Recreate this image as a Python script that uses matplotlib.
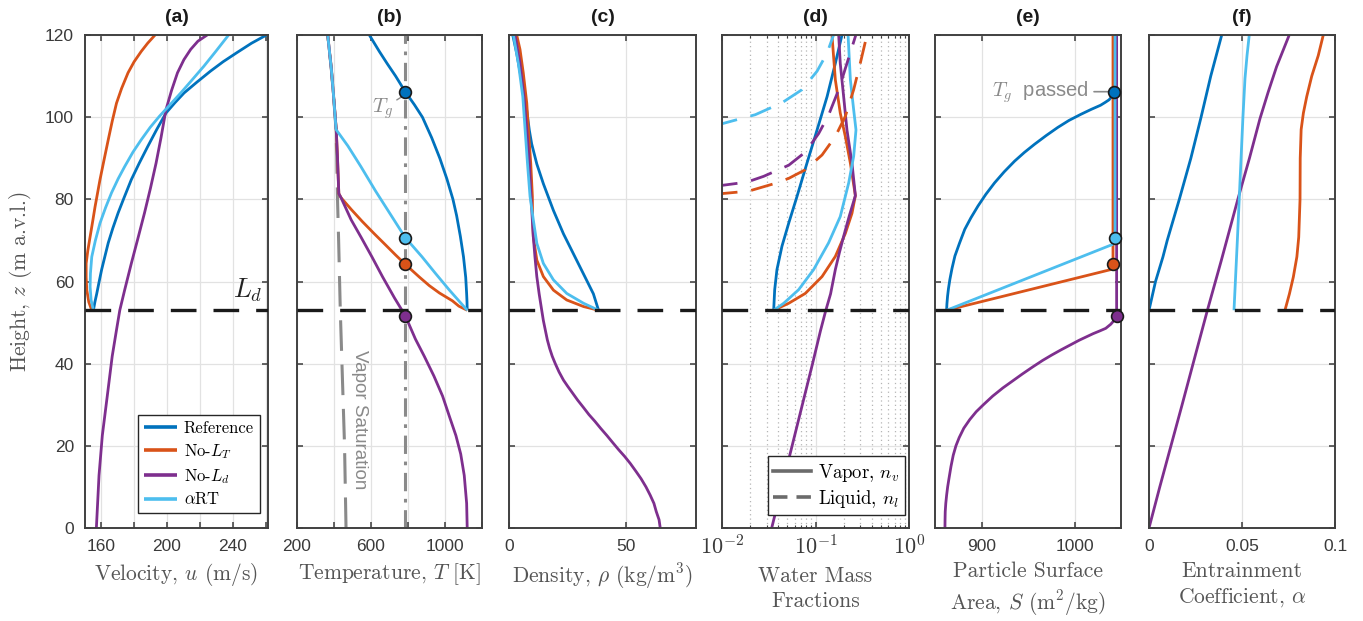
"""Vertical plume profiles for the four model variants (panels a-f)."""

import matplotlib

matplotlib.use("Agg")
import matplotlib.pyplot as plt
from matplotlib import ticker

plt.rcParams["mathtext.fontset"] = "cm"
plt.rcParams["font.family"] = ["Liberation Sans", "DejaVu Sans"]
plt.rcParams["axes.unicode_minus"] = False

SERIF = "cmr10"
C_REF = "#0072BD"
C_LT = "#D95319"
C_LD = "#7E2F8E"
C_RT = "#4DBEEE"
GREY = "#8a8a8a"

LD_HEIGHT = 53.0
T_GLASS = 785.0
RUN_LABELS = ["Reference", "No-$L_T$", "No-$L_d$", r"$\alpha$RT"]

# (a) velocity
a_ref_z = [53, 55, 57, 60, 62.9, 66, 69.4, 73, 76.7, 80.5, 84.8, 88.8, 92.9, 97, 101, 103.5, 105.9, 108.5, 111.2, 113.5, 115.7, 118, 120]
a_ref_u = [155.6, 156.5, 157.6, 159.1, 160.6, 162.5, 164.6, 167.4, 170.6, 174.3, 178.6, 183.4, 188.6, 194, 199.6, 205, 210.6, 218.3, 226.6, 234.3, 242.6, 251.5, 260.6]
a_lt_z = [53, 55, 57.9, 61, 64.4, 67.5, 70.9, 74.5, 78.2, 81.5, 84.8, 89.5, 94.5, 99, 103.4, 107, 110.8, 113.5, 116, 118, 120]
a_lt_u = [154.6, 152.8, 151.6, 151.2, 151.2, 152.2, 153.6, 155.1, 156.6, 158.1, 159.6, 162, 164.6, 167, 169.6, 172.7, 176.6, 180.3, 184.6, 188.5, 193]
a_ld_z = [0, 12.8, 22.5, 32.1, 41.8, 48.2, 53, 58, 64.4, 70.5, 76.7, 82.7, 88.8, 95, 101.8, 106.5, 110.8, 114, 116.5, 118.5, 120]
a_ld_u = [157.4, 159, 161, 164, 167, 169.6, 171.6, 174.6, 178.6, 182.6, 186.6, 190.2, 193.6, 196.6, 199.6, 203, 206.6, 210.5, 214.6, 219, 224.6]
a_rt_z = [53, 55.5, 58.7, 62, 66, 70, 74.2, 78, 81.6, 85, 88, 91.5, 94.5, 97.5, 100.2, 103, 105.9, 109, 112.4, 116, 120]
a_rt_u = [155.6, 154.2, 153.6, 153.8, 154.6, 156.8, 159.6, 163, 166.6, 170.6, 174.6, 179.6, 184.6, 190, 195.6, 202, 208.6, 215.3, 222.6, 229.8, 237.6]

# (b) temperature
b_sat_z = [0, 20, 40, 53, 70, 80, 90, 97, 105, 112, 120]
b_sat_T = [465, 457, 443, 434, 425, 419, 415, 411, 398, 385, 366]
b_ref_z = [53, 55, 57, 61, 66, 71, 76, 80, 85, 90, 95, 100, 103, 106.2, 110, 113, 116, 120]
b_ref_T = [1120, 1119, 1117, 1112, 1100, 1083, 1063, 1043, 1010, 972, 928, 878, 835, 785, 733, 688, 645, 591]
b_lt_z = [53, 54, 55.3, 57.2, 59, 61.1, 64.2, 66.5, 68.8, 71.7, 74.6, 77.5, 80.4, 81.4, 90, 97, 105, 112, 120]
b_lt_T = [1120, 1075, 1040, 970, 915, 861, 785, 732, 681, 616, 553, 494, 438, 426, 419, 412, 398, 385, 366]
b_ld_z = [0, 6, 12.8, 18, 22.5, 27, 32.1, 37, 41.8, 46, 51.7, 56, 61.1, 66, 70.8, 75, 80.4, 81.4, 90, 97, 105, 112, 120]
b_ld_T = [1120, 1117, 1104, 1085, 1059, 1025, 987, 940, 888, 840, 785, 727, 663, 605, 546, 493, 438, 426, 419, 412, 398, 385, 366]
b_rt_z = [53, 58, 62, 66, 70.7, 76, 82, 88, 93, 97, 105, 112, 120]
b_rt_T = [1120, 1022, 948, 876, 785, 710, 625, 545, 475, 411, 398, 385, 366]
tg_heights = [106.2, 64.2, 51.7, 70.7]

# (c) density
c_ref_z = [53, 57, 61, 65.9, 71.6, 77.3, 83.8, 88.6, 93.5, 96.8, 101.6, 105, 109, 112, 115.5, 120]
c_ref_r = [38.3, 36.1, 32.6, 28.3, 23.3, 19, 14.7, 11.9, 9.7, 8.7, 7.6, 6.6, 5.4, 4.4, 3.3, 1.6]
c_lt_z = [53, 53.9, 55.5, 57.9, 61.2, 65.2, 70.9, 75, 80.7, 88.8, 96.9, 103.4, 110.8, 116.5, 120]
c_lt_r = [38.3, 31.9, 24.7, 19, 14.7, 11.9, 10.4, 10.1, 10, 9.3, 8.3, 7.6, 6.1, 4.7, 3.3]
c_ld_z = [0, 2, 4, 6, 8, 10, 12, 13.8, 15.7, 17.4, 19, 20.7, 22.5, 24.2, 26, 27.6, 29.3, 31.1, 33, 34.5,
          36, 38, 40, 41.8, 43.7, 45.8, 48, 50.5, 53, 57, 61.2, 66, 70.9, 75.8, 80.7, 88.8, 96.9, 105, 113.1, 120]
c_ld_r = [64.7, 64.2, 63, 62, 60.4, 58.6, 56.5, 54.3, 51.9, 49.5, 47, 44.5, 41.9, 39.3, 36.7, 34.2, 31.9, 29.4, 27, 25.1,
          23.3, 21.4, 19.8, 18.5, 17.4, 16.4, 15.6, 14.7, 14.0, 12.9, 11.9, 11.1, 10.4, 9.9, 9.4, 8.7, 7.6, 6.4, 4.7, 2.6]
c_rt_z = [53, 54.7, 57.1, 60.4, 64.4, 69.3, 75, 80.7, 88.8, 96.9, 105, 113.1, 120]
c_rt_r = [38.3, 31.9, 24.7, 19, 14.7, 11.9, 10.4, 9, 7.9, 6.9, 5.9, 4, 1.9]

# (d) water mass fractions: vapour (solid) and liquid (dashed)
d_ref_vap_z = [53, 58, 62.9, 68.6, 74.2, 80.7, 88.8, 96.9, 105, 113.1, 120]
d_ref_vap = [0.0357, 0.0366, 0.0387, 0.0438, 0.0517, 0.0634, 0.081, 0.104, 0.133, 0.163, 0.192]
d_lt_vap_z = [53, 54.7, 57.1, 61.2, 66.1, 71.7, 76.6, 80.9, 88.8, 95.3, 101, 109.1, 120]
d_lt_vap = [0.0357, 0.0517, 0.0778, 0.1175, 0.163, 0.2085, 0.2455, 0.267, 0.236, 0.2085, 0.184, 0.163, 0.150]
d_ld_vap_z = [0, 10, 20, 30, 40, 48, 53, 57, 62.9, 67, 71, 76, 80.9, 88.8, 96.9, 105, 113.1, 120]
d_ld_vap = [0.034, 0.0437, 0.0562, 0.0723, 0.093, 0.113, 0.129, 0.145, 0.163, 0.18, 0.2, 0.23, 0.267, 0.2455, 0.217, 0.2, 0.184, 0.177]
d_rt_vap_z = [53, 54.7, 58, 62.9, 69.4, 75.8, 84, 90.5, 96.9, 101.8, 109.1, 120]
d_rt_vap = [0.0357, 0.0457, 0.066, 0.0955, 0.138, 0.184, 0.2265, 0.256, 0.271, 0.256, 0.236, 0.223]
d_lt_liq_z = [81.1, 81.4, 82, 83.9, 85.1, 87.2, 90.8, 95.3, 100.2, 106.7, 113.1, 120]
d_lt_liq = [0.0085, 0.01, 0.0193, 0.0372, 0.0517, 0.0778, 0.1175, 0.163, 0.2085, 0.256, 0.301, 0.355]
d_ld_liq_z = [83.2, 83.4, 84.2, 85.6, 88.3, 91.5, 96, 100.5, 106.7, 113.1, 120]
d_ld_liq = [0.0085, 0.01, 0.0185, 0.0279, 0.0517, 0.0778, 0.108, 0.138, 0.177, 0.217, 0.27]
d_rt_liq_z = [98.2, 98.4, 100.6, 103.5, 106.7, 111.2, 115.6, 120]
d_rt_liq = [0.0085, 0.01, 0.0227, 0.0438, 0.0718, 0.104, 0.133, 0.156]

# (e) particle surface area
e_ref_z = [53, 54.5, 56.4, 58.3, 60.5, 63.2, 66.2, 69.3, 72.7, 75.5, 78.4, 81.2, 84, 86.7, 89.3, 91.4, 93.4,
           95.5, 97.5, 99.2, 100.7, 101.9, 102.9, 103.6, 104.2, 105.2, 106.2, 120]
e_ref_S = [862.5, 862.8, 863.5, 864.5, 866, 868.3, 871.4, 876.3, 882, 888.6, 896.3, 904.6, 914, 924.4, 935.6, 946, 957,
           969.4, 982, 994, 1006.9, 1018, 1028, 1033, 1037, 1041, 1042.5, 1042.5]
e_lt_z = [53, 62.9, 64.2, 120]
e_lt_S = [862.5, 1039, 1041.4, 1041.4]
e_ld_z = [0, 2, 4, 6, 8, 10, 12, 15, 17.7, 20, 22, 24.3, 26.4, 28.3, 30, 32.1, 34.1, 35.8, 37.5, 39.2, 40.8,
          42.1, 43.3, 44.5, 45.7, 46.5, 47.3, 48.0, 48.6, 49.6, 50.5, 51.7, 120]
e_ld_S = [860.7, 860.8, 861, 861.6, 862.5, 863.6, 865, 867.2, 869.6, 872.5, 876, 881, 887.4, 894.3, 902, 912, 923,
          933.5, 944, 955, 965.8, 975.5, 985, 995, 1005, 1012.5, 1020, 1027.5, 1033.6, 1039, 1042.5, 1045.3, 1045.3]
e_rt_z = [53, 69.0, 70.7, 120]
e_rt_S = [862.5, 1040.7, 1043.6, 1043.6]
tg_surface = [1042.5, 1041.4, 1045.3, 1043.6]

# (f) entrainment coefficient
f_ref_z = [53, 60, 66, 70, 80, 90, 100, 110, 120]
f_ref_a = [0, 0.0035, 0.0075, 0.0098, 0.0163, 0.0225, 0.028, 0.0332, 0.0391]
f_lt_z = [53, 57, 61.1, 66, 70.8, 80, 90, 97, 101, 105, 110, 115, 120]
f_lt_a = [0.0731, 0.0755, 0.0776, 0.0795, 0.0805, 0.0812, 0.0813, 0.0818, 0.083, 0.0848, 0.0875, 0.091, 0.0937]
f_ld_z = [0, 10, 20, 30, 40, 53, 65, 80.4, 90, 99.7, 106, 112.3, 120]
f_ld_a = [0, 0.0058, 0.0118, 0.0178, 0.0237, 0.0314, 0.0388, 0.048, 0.054, 0.0597, 0.064, 0.0686, 0.0754]
f_rt_z = [53, 70, 85, 100, 109.4, 115, 120]
f_rt_a = [0.0457, 0.0475, 0.049, 0.0505, 0.0516, 0.0527, 0.0539]

COLORS = [C_REF, C_LT, C_LD, C_RT]
LW = 2.0
LD_DASH = (0, (7.7, 5.1))
CURVE_DASH = (0, (8, 5))
LABEL_SIZE = 15.5
TICK_SIZE = 12.5


def style_axes(ax, xlim, xticks, xticklabels, xlabel):
    ax.set_xlim(*xlim)
    ax.set_ylim(0, 120)
    ax.set_xticks(xticks)
    ax.set_xticklabels(xticklabels)
    ax.set_yticks(range(0, 121, 20))
    ax.grid(True, which="major", color="#e2e2e2", lw=0.9)
    ax.set_axisbelow(True)
    ax.tick_params(which="major", direction="in", top=True, right=True, length=4.5,
                   width=1.1, color="#3a3a3a", labelsize=TICK_SIZE, labelcolor="#3a3a3a", pad=8)
    for sp in ax.spines.values():
        sp.set_color("#404040")
        sp.set_linewidth(1.4)
    ax.set_xlabel(xlabel, family=SERIF, fontsize=LABEL_SIZE, color="#555555",
                  labelpad=5, linespacing=1.35)
    ax.axhline(LD_HEIGHT, color="#1a1a1a", lw=2.4, linestyle=LD_DASH, zorder=3)


def draw_runs(ax, series):
    lines = []
    for (x, z), color in zip(series, COLORS):
        (ln,) = ax.plot(x, z, color=color, lw=LW, solid_capstyle="butt", zorder=2)
        lines.append(ln)
    return lines


fig = plt.figure(figsize=(13.63, 6.21), dpi=100)
W, H = 1363.0, 621.0
panel_px = [(85, 183), (297, 185), (509, 187), (722, 187), (935, 186), (1149, 186)]
axes = [fig.add_axes([l / W, 93 / H, w / W, 493 / H]) for l, w in panel_px]
ax_a, ax_b, ax_c, ax_d, ax_e, ax_f = axes

# (a) velocity
lines = draw_runs(ax_a, [(a_ref_u, a_ref_z), (a_lt_u, a_lt_z), (a_ld_u, a_ld_z), (a_rt_u, a_rt_z)])
style_axes(ax_a, (150.5, 261.5), range(160, 261, 20), ["160", "", "200", "", "240", ""],
           "Velocity, $u$ (m/s)")
ax_a.set_ylabel("Height, $z$ (m a.v.l.)", family=SERIF, fontsize=LABEL_SIZE, color="#555555", labelpad=8)
ax_a.text(258.5, LD_HEIGHT + 1.5, "$L_d$", fontsize=19, color="#222222", ha="right", va="bottom")
leg = ax_a.legend(lines, RUN_LABELS, loc="lower right", bbox_to_anchor=(0.955, 0.03),
                  borderaxespad=0, prop={"family": SERIF, "size": 12}, handlelength=2.0,
                  handletextpad=0.4, labelspacing=0.35, borderpad=0.35, fancybox=False,
                  framealpha=1)
leg.get_frame().set_edgecolor("#262626")
leg.get_frame().set_linewidth(1.0)
for ln in leg.get_lines():
    ln.set_linewidth(2.6)

# (b) temperature
ax_b.plot(b_sat_T, b_sat_z, color=GREY, lw=2.2, linestyle=(0, (10, 4.5)), zorder=1.8)
ax_b.axvline(T_GLASS, color=GREY, lw=2.2, linestyle=(0, (6, 2.5, 1.2, 2.5)), zorder=1.8)
draw_runs(ax_b, [(b_ref_T, b_ref_z), (b_lt_T, b_lt_z), (b_ld_T, b_ld_z), (b_rt_T, b_rt_z)])
for zt, color in zip(tg_heights, COLORS):
    ax_b.plot([T_GLASS], [zt], "o", ms=8.5, mfc=color, mec="#1a1a1a", mew=1.2, zorder=4)
style_axes(ax_b, (200, 1200), range(200, 1201, 200), ["200", "", "600", "", "1000", ""],
           "Temperature, $T$ [K]")
ax_b.set_yticklabels([])
ax_b.text(540, 26.4, "Vapor Saturation", rotation=270, color=GREY, fontsize=13.5,
          ha="center", va="center")
ax_b.annotate("$T_g$", xy=(768, 105.0), xytext=(718, 102.0), color=GREY, fontsize=15,
              ha="right", va="center",
              arrowprops=dict(arrowstyle="-", color=GREY, lw=1.0, shrinkA=1, shrinkB=0))

# (c) density
draw_runs(ax_c, [(c_ref_r, c_ref_z), (c_lt_r, c_lt_z), (c_ld_r, c_ld_z), (c_rt_r, c_rt_z)])
style_axes(ax_c, (0, 80), [0, 50], ["0", "50"], r"Density, $\rho$ (kg/m$^3$)")
ax_c.set_yticklabels([])

# (d) water mass fractions
ax_d.set_xscale("log")
vap = [(d_ref_vap, d_ref_vap_z), (d_lt_vap, d_lt_vap_z), (d_ld_vap, d_ld_vap_z), (d_rt_vap, d_rt_vap_z)]
draw_runs(ax_d, vap)
for x, z, color in [(d_lt_liq, d_lt_liq_z, C_LT), (d_ld_liq, d_ld_liq_z, C_LD), (d_rt_liq, d_rt_liq_z, C_RT)]:
    ax_d.plot(x, z, color=color, lw=LW, linestyle=CURVE_DASH, zorder=2)
style_axes(ax_d, (1e-2, 1e0), [1e-2, 1e-1, 1e0],
           [r"$\mathsf{10^{-2}}$", r"$\mathsf{10^{-1}}$", r"$\mathsf{10^{0}}$"],
           "Water Mass\nFractions")
ax_d.set_yticklabels([])
ax_d.tick_params(axis="x", which="major", labelsize=16, pad=5)
ax_d.xaxis.set_minor_locator(ticker.LogLocator(base=10, subs=range(2, 10)))
ax_d.xaxis.set_minor_formatter(ticker.NullFormatter())
ax_d.tick_params(which="minor", direction="in", top=True, length=2.5, width=0.8, color="#3a3a3a")
ax_d.grid(True, which="minor", axis="x", color="#b5b5b5", lw=0.9, linestyle=(0, (1, 2.5)))
h_vap, = ax_d.plot([], [], color="#6b6b6b", lw=2.6)
h_liq, = ax_d.plot([], [], color="#6b6b6b", lw=2.6, linestyle=(0, (4, 2.5)))
leg_d = ax_d.legend([h_vap, h_liq], ["Vapor, $n_v$", "Liquid, $n_l$"], loc="lower right",
                    bbox_to_anchor=(0.979, 0.026), borderaxespad=0,
                    prop={"family": SERIF, "size": 13.5}, handlelength=2.0, handletextpad=0.4,
                    labelspacing=0.2, borderpad=0.3, fancybox=False, framealpha=1)
leg_d.get_frame().set_edgecolor("#262626")
leg_d.get_frame().set_linewidth(1.0)

# (e) particle surface area
draw_runs(ax_e, [(e_ref_S, e_ref_z), (e_lt_S, e_lt_z), (e_ld_S, e_ld_z), (e_rt_S, e_rt_z)])
for zt, st, color in zip(tg_heights, tg_surface, COLORS):
    ax_e.plot([st], [zt], "o", ms=8.5, mfc=color, mec="#1a1a1a", mew=1.2, zorder=4,
              clip_on=False)
style_axes(ax_e, (850, 1050), [900, 1000], ["900", "1000"],
           "Particle Surface\nArea, $S$ (m$^2$/kg)")
ax_e.set_yticklabels([])
ax_e.annotate("$T_g$  passed", xy=(tg_surface[0] - 3, tg_heights[0]), xytext=(1015, tg_heights[0]),
              color=GREY, fontsize=14.5, ha="right", va="center",
              arrowprops=dict(arrowstyle="-", color=GREY, lw=1.2, shrinkA=2, shrinkB=0))

# (f) entrainment coefficient
draw_runs(ax_f, [(f_ref_a, f_ref_z), (f_lt_a, f_lt_z), (f_ld_a, f_ld_z), (f_rt_a, f_rt_z)])
style_axes(ax_f, (0, 0.1), [0, 0.05, 0.1], ["0", "0.05", "0.1"],
           "Entrainment\nCoefficient, $\\alpha$")
ax_f.set_yticklabels([])

for ax, tag in zip(axes, "abcdef"):
    ax.set_title(f"({tag})", fontweight="bold", fontsize=14, color="#1a1a1a", pad=9)

fig.savefig("out.png", dpi=100)
